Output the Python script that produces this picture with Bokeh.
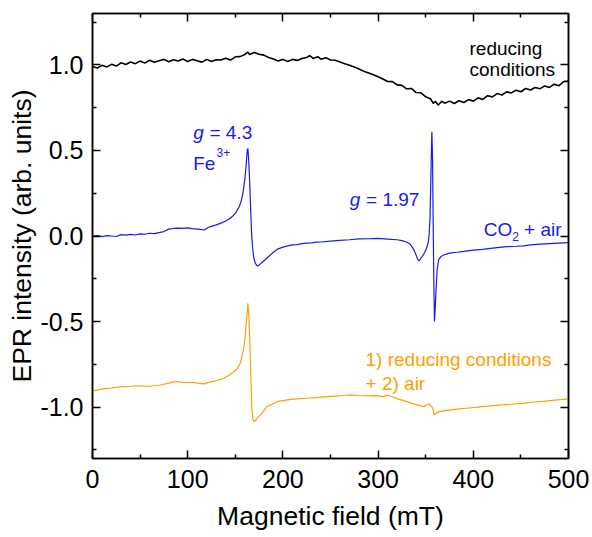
from bokeh.plotting import figure
from bokeh.models import Range1d, FixedTicker, LinearAxis, Label, PrintfTickFormatter
from bokeh.embed import file_html
from bokeh.resources import INLINE

# ---------------- data ----------------
black_x = [0, 5, 10, 15, 20, 25, 30, 35, 40, 45, 50, 55, 60, 65, 70, 75, 80, 85, 90, 95,
           100, 105, 110, 115, 120, 125, 130, 135, 140, 145, 150, 155, 160, 163, 165, 170, 175, 180, 185, 190,
           195, 200, 205, 210, 215, 220, 225, 228, 232, 237, 240, 245, 250, 255, 260, 265, 270, 275, 280, 285,
           290, 295, 300, 305, 310, 315, 320, 325, 330, 335, 340, 345, 350, 355, 358, 360, 363, 367, 370, 375,
           380, 385, 390, 395, 400, 405, 410, 415, 420, 425, 430, 435, 440, 445, 450, 455, 460, 465, 470, 475,
           480, 485, 490, 495, 500]
black_y = [0.99, 0.982, 0.997, 0.988, 1.003, 0.993, 1.012, 1.002, 1.017, 1.007, 1.022, 1.01, 1.027, 1.015, 1.024, 1.032, 1.018, 1.03, 1.022, 1.034,
           1.02, 1.032, 1.024, 1.016, 1.032, 1.02, 1.03, 1.028, 1.038, 1.028, 1.047, 1.048, 1.06, 1.075, 1.06, 1.072, 1.062, 1.057, 1.043, 1.034,
           1.023, 1.032, 1.02, 1.032, 1.026, 1.037, 1.043, 1.054, 1.038, 1.047, 1.033, 1.042, 1.028, 1.027, 1.016, 1.007, 0.998, 0.987, 0.976, 0.962,
           0.953, 0.942, 0.93, 0.917, 0.903, 0.902, 0.883, 0.88, 0.86, 0.862, 0.838, 0.837, 0.813, 0.802, 0.775, 0.787, 0.765, 0.787, 0.776, 0.788,
           0.774, 0.79, 0.78, 0.797, 0.788, 0.807, 0.798, 0.82, 0.813, 0.832, 0.824, 0.842, 0.836, 0.852, 0.843, 0.862, 0.853, 0.868, 0.86, 0.877,
           0.868, 0.887, 0.878, 0.902, 0.905]

blue_x = [0, 5, 10, 15, 20, 25, 30, 35, 40, 45, 50, 55, 60, 65, 70, 75, 80, 85, 90, 95,
          100, 105, 110, 115, 118, 121, 125, 130, 135, 140, 145, 148, 151, 154, 156, 158, 160, 161.5, 162.5, 163.2,
          164, 165, 166, 167, 168, 169.5, 171, 173, 175, 178, 181, 185, 190, 195, 200, 205, 210, 215, 220, 225,
          230, 235, 240, 250, 260, 270, 280, 290, 300, 310, 320, 325, 330, 334, 337, 339.5, 341.5, 343, 345, 347,
          349, 351, 352.5, 353.5, 354.5, 355.3, 356, 356.5, 357.2, 357.8, 358.5, 359.2, 360, 361, 362, 363.5, 366, 369, 375, 383,
          390, 400, 410, 418, 425, 435, 445, 453, 460, 470, 480, 490, 500]
blue_y = [0.0, 0.003, -0.004, 0.002, 0.0, -0.003, 0.008, 0.005, 0.01, 0.006, 0.012, 0.01, 0.016, 0.014, 0.02, 0.026, 0.04, 0.044, 0.046, 0.045,
          0.047, 0.043, 0.04, 0.037, 0.036, 0.048, 0.056, 0.065, 0.075, 0.088, 0.105, 0.12, 0.14, 0.17, 0.2, 0.25, 0.33, 0.42, 0.5, 0.512,
          0.45, 0.33, 0.18, 0.03, -0.06, -0.13, -0.16, -0.175, -0.17, -0.155, -0.14, -0.12, -0.095, -0.075, -0.065, -0.058, -0.052, -0.05, -0.045, -0.042,
          -0.04, -0.036, -0.035, -0.03, -0.025, -0.022, -0.017, -0.016, -0.014, -0.018, -0.022, -0.027, -0.035, -0.05, -0.075, -0.105, -0.135, -0.145, -0.13, -0.115,
          -0.095, -0.07, -0.04, 0.0, 0.1, 0.3, 0.5, 0.609, 0.45, 0.1, -0.25, -0.5, -0.42, -0.3, -0.2, -0.14, -0.12, -0.111, -0.1, -0.095,
          -0.09, -0.083, -0.078, -0.072, -0.068, -0.062, -0.06, -0.058, -0.052, -0.048, -0.045, -0.042, -0.039]

orange_x = [0, 5, 10, 15, 20, 25, 30, 40, 50, 60, 70, 80, 85, 90, 95, 100, 105, 110, 117, 122,
            128, 133, 138, 143, 148, 152, 155, 157, 159, 160.7, 162, 163.2, 164.2, 165.2, 166.3, 167.3, 168.5, 169.5, 171, 174,
            178, 183.5, 188, 194, 200, 208, 215, 225, 235, 243, 255, 265, 271, 280, 290, 299, 305, 310, 314, 320,
            330, 340, 348, 352, 353.5, 355, 357, 359.2, 361, 364, 370, 383, 395, 405, 418, 430, 440, 453, 465, 478,
            488, 495, 500]
orange_y = [-0.905, -0.9, -0.895, -0.89, -0.888, -0.885, -0.88, -0.878, -0.875, -0.878, -0.872, -0.86, -0.852, -0.85, -0.855, -0.856, -0.855, -0.86, -0.864, -0.855,
            -0.848, -0.84, -0.831, -0.815, -0.795, -0.775, -0.745, -0.705, -0.65, -0.568, -0.48, -0.393, -0.46, -0.607, -0.8, -1.0, -1.07, -1.085, -1.078, -1.06,
            -1.035, -0.995, -0.985, -0.968, -0.962, -0.955, -0.952, -0.948, -0.944, -0.94, -0.935, -0.932, -0.928, -0.932, -0.934, -0.933, -0.94, -0.93, -0.938, -0.95,
            -0.968, -0.985, -0.997, -0.985, -0.98, -0.995, -1.0, -1.046, -1.035, -1.026, -1.02, -1.012, -1.005, -1.0, -0.993, -0.987, -0.983, -0.977, -0.97, -0.963,
            -0.958, -0.955, -0.952]

x_major = [0, 100, 200, 300, 400, 500]
x_minor = [50, 150, 250, 350, 450]
y_major = [-1.0, -0.5, 0.0, 0.5, 1.0]
y_minor = [-1.25, -0.75, -0.25, 0.25, 0.75, 1.25]

BLACK = "#000000"
BLUE = "#1a1aeb"
ORANGE = "#ffa000"
FONT = "Liberation Sans"

# ---------------- figure ----------------
p = figure(width=590, height=535, output_backend="svg", toolbar_location=None,
           x_range=Range1d(0, 500), y_range=Range1d(-1.3, 1.3),
           min_border_left=92, min_border_right=22, min_border_top=13, min_border_bottom=77)
p.background_fill_color = "white"
p.border_fill_color = "white"
p.grid.visible = False
p.outline_line_color = "black"
p.outline_line_width = 1.5

p.line(black_x, black_y, line_color=BLACK, line_width=1.6)
p.line(blue_x, blue_y, line_color=BLUE, line_width=1.2)
p.line(orange_x, orange_y, line_color=ORANGE, line_width=1.2)

def style_axis(ax, ticks, minor, show_labels):
    ax.ticker = FixedTicker(ticks=ticks, minor_ticks=minor)
    ax.major_tick_in = 8
    ax.major_tick_out = 0
    ax.minor_tick_in = 4
    ax.minor_tick_out = 0
    ax.axis_line_width = 1.5
    ax.major_tick_line_width = 1.5
    ax.minor_tick_line_width = 1.5
    ax.axis_line_color = "black"
    ax.major_tick_line_color = "black"
    ax.minor_tick_line_color = "black"
    if show_labels:
        ax.major_label_text_font = FONT
        ax.major_label_text_font_size = "25px"
        ax.major_label_text_color = "black"
        ax.axis_label_text_font = FONT
        ax.axis_label_text_font_size = "26.5px"
        ax.axis_label_text_font_style = "normal"
        ax.axis_label_text_color = "black"
    else:
        ax.major_label_overrides = {t: "" for t in ticks}
        ax.major_label_text_font_size = "1px"
        ax.major_label_standoff = 0

xa = p.xaxis[0]
ya = p.yaxis[0]
style_axis(xa, x_major, x_minor, True)
style_axis(ya, y_major, y_minor, True)
xa.axis_label = "Magnetic field (mT)"
ya.axis_label = "EPR intensity (arb. units)"
xa.major_label_standoff = 11
ya.major_label_standoff = 9
xa.axis_label_standoff = 10
ya.axis_label_standoff = 0
ya.formatter = PrintfTickFormatter(format="%.1f")

top = LinearAxis()
style_axis(top, x_major, x_minor, False)
p.add_layout(top, "above")
right = LinearAxis()
style_axis(right, y_major, y_minor, False)
p.add_layout(right, "right")

# ---------------- annotations ----------------
notes = [
    # text, x, y, x_offset, y_offset, size, style, color
    ("g", 105.8, 0.602, 0, 0, "19px", "italic", BLUE),
    ("= 4.3", 105.8, 0.602, 16.2, 0, "19px", "normal", BLUE),
    ("Fe", 105.8, 0.425, 0, 0, "19px", "normal", BLUE),
    ("3+", 105.8, 0.425, 23.3, 10.6, "12px", "normal", BLUE),
    ("g", 270.3, 0.214, 0, 0, "19px", "italic", BLUE),
    ("= 1.97", 270.3, 0.214, 16.2, 0, "19px", "normal", BLUE),
    ("CO", 411.0, 0.039, 0, 0, "19px", "normal", BLUE),
    ("2", 411.0, 0.039, 28.5, -7.4, "12px", "normal", BLUE),
    ("+ air", 411.0, 0.039, 40.3, 0, "19px", "normal", BLUE),
    ("reducing", 396.0, 1.097, 0, 0, "19px", "normal", BLACK),
    ("conditions", 396.0, 0.974, 0, 0, "19px", "normal", BLACK),
    ("1) reducing conditions", 286.8, -0.724, 0, 0, "19px", "normal", ORANGE),
    ("+ 2) air", 286.8, -0.860, 0, 0, "19px", "normal", ORANGE),
]
for t, x, y, dx, dy, fs, st, col in notes:
    p.add_layout(Label(x=x, y=y, x_offset=dx, y_offset=dy, text=t,
                       text_font=FONT, text_font_size=fs, text_font_style=st,
                       text_color=col, text_align="left", text_baseline="alphabetic"))

open("out.html", "w").write(file_html(p, INLINE))
